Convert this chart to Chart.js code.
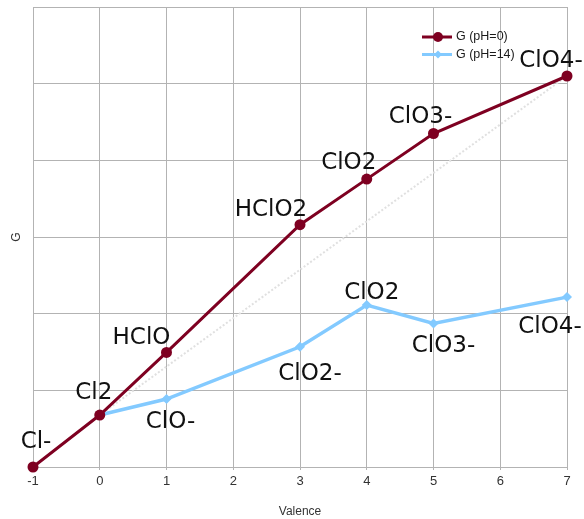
<!DOCTYPE html>
<html>
<head>
<meta charset="utf-8">
<script src="https://cdn.jsdelivr.net/npm/chart.js@4/dist/chart.umd.min.js"></script>
<style>
  html, body { margin: 0; padding: 0; background: #fff; }
</style>
</head>
<body>
<canvas id="chart" width="584" height="519"></canvas>
<script>
// chart values
const valence = [-1, 0, 1, 3, 4, 5, 7];
const gAcid = [0, 0.678, 1.495, 3.16, 3.755, 4.35, 5.10];
const acidSpecies = ['Cl-', 'Cl2', 'HClO', 'HClO2', 'ClO2', 'ClO3-', 'ClO4-'];

const valenceBase = [0, 1, 3, 4, 5, 7];
const gBase = [0.678, 0.886, 1.568, 2.112, 1.873, 2.216];
const baseSpecies = ['', 'ClO-', 'ClO2-', 'ClO2', 'ClO3-', 'ClO4-'];

const xTicks = [-1, 0, 1, 2, 3, 4, 5, 6, 7];

// label placement (text centre x, baseline y) relative to each point, in px
const acidLabelOffsets = [[3, -19], [-6, -16], [-25, -8], [-29, -9], [-18, -10], [-13, -11], [-16, -9]];
const baseLabelOffsets = [[0, 0], [4, 29], [10, 33], [5, -6], [10, 29], [-17, 36]];

const RED = '#7e0021';
const BLUE = '#83caff';

const toPoints = (xs, ys) => xs.map((x, i) => ({ x: x, y: ys[i] }));

const pointLabels = {
  id: 'pointLabels',
  afterDatasetsDraw(chart) {
    const ctx = chart.ctx;
    ctx.save();
    ctx.font = '23px "DejaVu Sans"';
    ctx.fillStyle = '#111';
    ctx.textAlign = 'center';
    ctx.textBaseline = 'alphabetic';
    chart.data.datasets.forEach((ds, di) => {
      if (!ds.species) return;
      chart.getDatasetMeta(di).data.forEach((pt, i) => {
        const text = ds.species[i];
        if (!text) return;
        const off = ds.labelOffsets[i];
        ctx.fillText(text, pt.x + off[0], pt.y + off[1]);
      });
    });
    ctx.restore();
  }
};

const boxLegend = {
  id: 'boxLegend',
  afterDraw(chart) {
    const ctx = chart.ctx;
    const items = chart.data.datasets.filter(ds => ds.species);
    ctx.save();
    ctx.font = '12.5px "Liberation Sans"';
    ctx.textBaseline = 'middle';
    ctx.textAlign = 'left';
    items.forEach((ds, i) => {
      const y = 37 + i * 17.5;
      ctx.strokeStyle = ds.borderColor;
      ctx.lineWidth = 3;
      ctx.beginPath();
      ctx.moveTo(422, y);
      ctx.lineTo(452, y);
      ctx.stroke();
      ctx.fillStyle = ds.pointBackgroundColor;
      ctx.beginPath();
      if (ds.pointStyle === 'rectRot') {
        ctx.moveTo(438, y - 4); ctx.lineTo(442, y); ctx.lineTo(438, y + 4); ctx.lineTo(434, y);
        ctx.closePath();
      } else {
        ctx.arc(438, y, 5, 0, Math.PI * 2);
      }
      ctx.fill();
      ctx.fillStyle = '#1a1a1a';
      ctx.fillText(ds.label, 456, y);
    });
    ctx.restore();
  }
};

new Chart(document.getElementById('chart'), {
  type: 'line',
  data: {
    datasets: [
      {
        label: 'G (pH=0)',
        data: toPoints(valence, gAcid),
        species: acidSpecies,
        labelOffsets: acidLabelOffsets,
        borderColor: RED,
        backgroundColor: RED,
        pointBackgroundColor: RED,
        pointBorderColor: RED,
        pointBorderWidth: 0,
        borderWidth: 3,
        pointRadius: 5.5,
        pointStyle: 'circle',
        clip: false,
        order: 1
      },
      {
        label: 'G (pH=14)',
        data: toPoints(valenceBase, gBase),
        species: baseSpecies,
        labelOffsets: baseLabelOffsets,
        borderColor: BLUE,
        backgroundColor: BLUE,
        pointBackgroundColor: BLUE,
        pointBorderColor: BLUE,
        pointBorderWidth: 0,
        borderWidth: 3.5,
        pointRadius: 5,
        pointStyle: 'rectRot',
        clip: false,
        order: 2
      },
      {
        label: 'guide',
        data: [
          { x: valence[1], y: gAcid[1] },
          { x: valence[6], y: gAcid[6] }
        ],
        borderColor: '#e0e0e0',
        borderDash: [2, 2],
        borderWidth: 2,
        pointRadius: 0,
        order: 3
      }
    ]
  },
  options: {
    responsive: false,
    animation: false,
    layout: { padding: { top: 7, right: 17, left: 0, bottom: 0 } },
    plugins: {
      legend: { display: false },
      tooltip: { enabled: false }
    },
    scales: {
      x: {
        type: 'linear',
        min: -1,
        max: 7,
        afterBuildTicks: scale => { scale.ticks = xTicks.map(v => ({ value: v })); },
        afterFit: scale => { scale.height = 52; },
        ticks: {
          color: '#333',
          font: { family: 'Liberation Sans', size: 13 },
          padding: 4
        },
        grid: { color: '#b3b3b3', lineWidth: 1, tickLength: 3 },
        border: { color: '#b3b3b3' },
        title: {
          display: true,
          text: 'Valence',
          color: '#333',
          font: { family: 'Liberation Sans', size: 12 },
          padding: { top: 12, bottom: 0 }
        }
      },
      y: {
        min: 0,
        max: 6,
        afterFit: scale => { scale.width = 33; },
        ticks: { display: false, stepSize: 1 },
        grid: { color: '#b3b3b3', lineWidth: 1, drawTicks: false },
        border: { color: '#b3b3b3' },
        title: {
          display: true,
          text: 'G',
          color: '#333',
          font: { family: 'Liberation Sans', size: 12 },
          padding: { top: 9, bottom: 0 }
        }
      }
    }
  },
  plugins: [pointLabels, boxLegend]
});
</script>
</body>
</html>
